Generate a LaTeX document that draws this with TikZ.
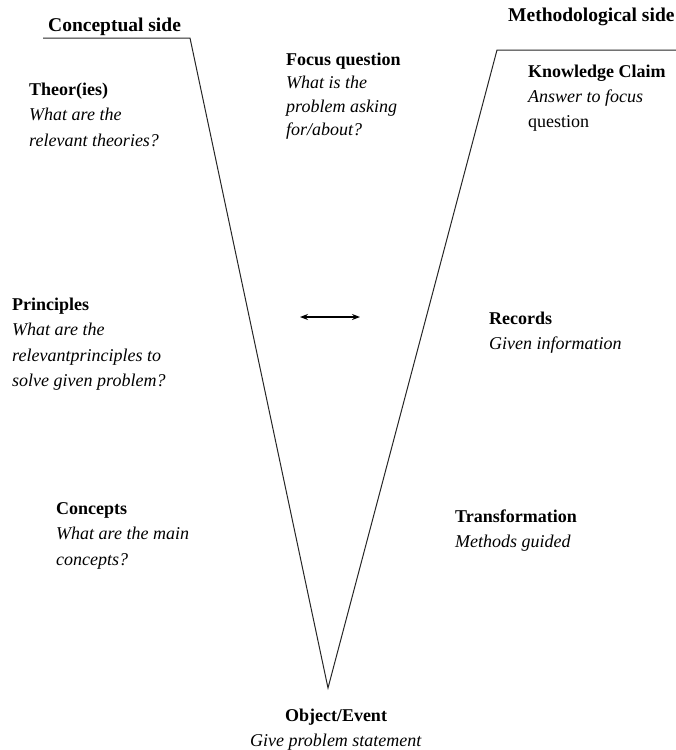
\documentclass[tikz,border=0pt]{standalone}
\usepackage{fontspec}
\setmainfont{Liberation Serif}
\usetikzlibrary{arrows.meta}
\tikzset{
    txt/.style={anchor=base west, align=left, inner sep=0pt,
        font=\fontsize{18}{25.5}\selectfont},
    sidetxt/.style={anchor=base west, inner sep=0pt,
        font=\fontsize{19.5}{24}\selectfont\bfseries}
}
\begin{document}
\begin{tikzpicture}[x=1pt,y=-1pt]
    \useasboundingbox (0,0) rectangle (676,750);
    % the V (nodes sit on the baseline of their last line)
    \draw[black!85, line width=1pt] (43,38) -- (190,38) -- (328,688) -- (497,50) -- (676,50);
    \node[sidetxt] (concside) at (48,31) {Conceptual side};
    \node[sidetxt] (methside) at (508,21) {Methodological side};
    % conceptual side
    \node[txt] (theory) at (29,146) {\textbf{Theor(ies)}\\\textit{What are the}\\\textit{relevant theories?}};
    \node[txt] (principle) at (12,386.5) {\textbf{Principles}\\\textit{What are the}\\\textit{relevantprinciples to}\\\textit{solve given problem?}};
    \node[txt] (concept) at (56,565) {\textbf{Concepts}\\\textit{What are the main}\\\textit{concepts?}};
    % middle
    \node[txt, font=\fontsize{18}{23.5}\selectfont] (focus) at (286,135.5) {\textbf{Focus question}\\\textit{What is the}\\\textit{problem asking}\\\textit{for/about?}};
    \coordinate (lft) at (300,317);
    \coordinate (rgt) at (360,317);
    \draw[{Stealth[length=8pt,width=6pt]}-{Stealth[length=8pt,width=6pt]}, line width=1.2pt] (lft) -- (rgt);
    \node[txt, anchor=base, align=center, font=\fontsize{18}{25}\selectfont] (object) at (336,746) {\textbf{Object/Event}\\\textit{Give problem statement}};
    % methodological side
    \node[txt, font=\fontsize{18}{25}\selectfont] (claim) at (528,127) {\textbf{Knowledge Claim}\\\textit{Answer to focus}\\question};
    \node[txt, font=\fontsize{18}{25}\selectfont] (record) at (489,349) {\textbf{Records}\\\textit{Given information}};
    \node[txt, font=\fontsize{18}{25}\selectfont] (transform) at (455,547) {\textbf{Transformation}\\\textit{Methods guided}};
\end{tikzpicture}
\end{document}
